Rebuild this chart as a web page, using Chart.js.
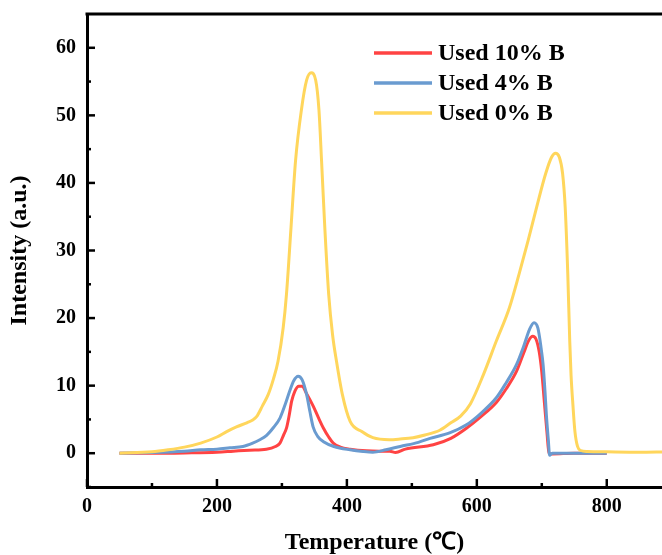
<!DOCTYPE html>
<html>
<head>
<meta charset="utf-8">
<script src="https://cdn.jsdelivr.net/npm/chart.js@4/dist/chart.umd.min.js"></script>
<style>
  html, body { margin: 0; padding: 0; background: #fff; }
  canvas { display: block; }
</style>
</head>
<body>
<canvas id="tpd" width="662" height="555"></canvas>
<script>
// --- data ---
const seriesLabels = ['Used 10% B', 'Used 4% B', 'Used 0% B'];

const temp10 = [50, 100, 150, 200, 225, 250, 276, 290, 297, 303, 307, 311, 315, 320, 326, 331, 338, 348, 356, 364, 372, 379, 390, 405, 430, 450, 466, 475, 490, 533, 560, 584, 605, 630, 645, 661, 672, 680, 686, 691, 696, 700, 704, 708, 711, 716, 750, 800];
const int10  = [0, 0, 0.05, 0.15, 0.3, 0.45, 0.6, 1.0, 1.5, 2.8, 3.7, 5.5, 7.7, 9.2, 9.9, 9.9, 8.8, 7.0, 5.3, 3.7, 2.4, 1.5, 0.9, 0.6, 0.35, 0.3, 0.3, 0.1, 0.6, 1.25, 2.2, 3.7, 5.3, 7.5, 9.5, 12.1, 14.8, 16.7, 17.3, 16.9, 15.0, 12.0, 7.5, 3.0, 0, -0.1, 0, 0];

const temp4 = [50, 100, 150, 175, 200, 220, 240, 255, 266, 276, 287, 297, 305, 312, 318, 325, 331, 338, 343, 348, 355, 364, 380, 405, 425, 440, 460, 482, 510, 528, 558, 584, 605, 630, 645, 661, 672, 681, 688, 694, 699, 702, 705, 707, 710, 712, 716, 750, 800];
const int4  = [0, 0.1, 0.3, 0.5, 0.6, 0.8, 1.0, 1.5, 2.0, 2.6, 3.8, 5.2, 7.2, 9.2, 10.7, 11.4, 10.9, 8.7, 6.2, 3.9, 2.5, 1.7, 1.0, 0.5, 0.25, 0.15, 0.5, 1.0, 1.6, 2.2, 3.0, 4.2, 5.8, 8.2, 10.4, 13.1, 15.8, 18.3, 19.3, 18.5, 15.5, 13.1, 9.0, 5.7, 2.0, -0.3, 0, 0, 0];

const temp0 = [50, 100, 125, 150, 175, 200, 215, 230, 246, 255, 261, 270, 279, 287, 294, 302, 307, 314, 321, 330, 338, 345, 352, 357, 361, 366, 372, 378, 384, 393, 405, 423, 440, 465, 482, 502, 520, 543, 560, 575, 590, 610, 630, 650, 665, 679, 692, 706, 715, 721, 727, 732, 736, 740, 743, 745, 748, 751, 755, 760, 770, 800, 850, 890];
const int0  = [0, 0.2, 0.5, 0.9, 1.5, 2.4, 3.2, 3.9, 4.5, 4.9, 5.4, 7.0, 8.7, 11.0, 13.6, 18.6, 23.5, 33.4, 43.3, 50.8, 55.2, 56.3, 55.2, 50.8, 43.3, 33.4, 23.5, 17.5, 13.6, 8.7, 4.7, 3.2, 2.3, 2.0, 2.1, 2.3, 2.7, 3.4, 4.5, 5.5, 7.3, 11.6, 16.6, 21.5, 26.5, 31.5, 36.4, 41.4, 43.8, 44.4, 43.8, 41.4, 36.4, 26.5, 16.6, 11.6, 7.0, 3.2, 1.0, 0.4, 0.25, 0.2, 0.15, 0.2];

const xMajorTicks = [0, 200, 400, 600, 800];
const xMinorTicks = [100, 300, 500, 700];
const yMajorTicks = [0, 10, 20, 30, 40, 50, 60];
const yMinorTicks = [-5, 5, 15, 25, 35, 45, 55];

const lineColors = ['#FF4343', '#6A9BD0', '#FFD65C'];

const toPoints = (xs, ys) => xs.map((t, i) => ({ x: t, y: ys[i] }));
const serif = "'Liberation Serif', 'Times New Roman', serif";

// inward tick marks, top frame line and the in-plot legend
const framePlugin = {
  id: 'frame',
  afterDraw(chart) {
    const { ctx, chartArea: a, scales: { x, y } } = chart;
    ctx.save();
    ctx.strokeStyle = '#000';
    ctx.lineCap = 'butt';

    ctx.lineWidth = 3;
    ctx.beginPath();
    ctx.moveTo(a.left - 1.5, a.top);
    ctx.lineTo(a.right, a.top);
    ctx.stroke();

    ctx.lineWidth = 2.5;
    const mark = (px, py, dx, dy) => {
      ctx.beginPath(); ctx.moveTo(px, py); ctx.lineTo(px + dx, py + dy); ctx.stroke();
    };
    xMajorTicks.forEach((v) => mark(x.getPixelForValue(v), a.bottom, 0, -8));
    xMinorTicks.forEach((v) => mark(x.getPixelForValue(v), a.bottom, 0, -4));
    yMajorTicks.forEach((v) => mark(a.left, y.getPixelForValue(v), 8, 0));
    yMinorTicks.forEach((v) => mark(a.left, y.getPixelForValue(v), 4, 0));

    // legend
    ctx.font = `bold 24px ${serif}`;
    ctx.textBaseline = 'middle';
    ctx.textAlign = 'left';
    chart.data.datasets.forEach((ds, i) => {
      const ly = a.top + 39 + i * 30;
      ctx.strokeStyle = ds.borderColor;
      ctx.lineWidth = 3.5;
      ctx.beginPath();
      ctx.moveTo(a.left + 287, ly);
      ctx.lineTo(a.left + 345, ly);
      ctx.stroke();
      ctx.fillStyle = '#000';
      ctx.fillText(ds.label, a.left + 351, ly + 1);
    });
    ctx.restore();
  },
};

new Chart(document.getElementById('tpd').getContext('2d'), {
  type: 'line',
  data: {
    datasets: [
      { label: seriesLabels[0], data: toPoints(temp10, int10), borderColor: lineColors[0], order: 3 },
      { label: seriesLabels[1], data: toPoints(temp4, int4), borderColor: lineColors[1], order: 2 },
      { label: seriesLabels[2], data: toPoints(temp0, int0), borderColor: lineColors[2], order: 1 },
    ],
  },
  options: {
    responsive: false,
    animation: false,
    parsing: false,
    layout: { padding: { top: 14, right: 0, bottom: 0, left: 0 } },
    elements: {
      line: { borderWidth: 3, cubicInterpolationMode: 'monotone', fill: false },
      point: { radius: 0 },
    },
    plugins: {
      legend: { display: false },
      tooltip: { enabled: false },
    },
    scales: {
      x: {
        type: 'linear',
        min: 0,
        max: 885,
        afterBuildTicks: (s) => { s.ticks = xMajorTicks.map((v) => ({ value: v })); },
        afterFit: (s) => { s.height = 68; s.paddingRight = 0; },
        grid: { display: false, drawTicks: false },
        border: { display: true, color: '#000', width: 3 },
        ticks: {
          color: '#000',
          padding: 8,
          maxRotation: 0,
          autoSkip: false,
          font: { family: serif, size: 20, weight: 'bold' },
        },
        title: {
          display: true,
          text: 'Temperature (℃)',
          color: '#000',
          padding: { top: 0, bottom: 0 },
          font: { family: serif, size: 24, weight: 'bold', lineHeight: 1 },
        },
      },
      y: {
        min: -5,
        max: 65,
        afterBuildTicks: (s) => { s.ticks = yMajorTicks.map((v) => ({ value: v })); },
        afterFit: (s) => { s.width = 87; s.paddingTop = 0; s.paddingBottom = 0; },
        grid: { display: false, drawTicks: false },
        border: { display: true, color: '#000', width: 3 },
        ticks: {
          color: '#000',
          padding: 11,
          autoSkip: false,
          font: { family: serif, size: 20, weight: 'bold' },
        },
        title: {
          display: true,
          text: 'Intensity (a.u.)',
          color: '#000',
          padding: { top: 8, bottom: 0 },
          font: { family: serif, size: 24, weight: 'bold', lineHeight: 1 },
        },
      },
    },
  },
  plugins: [framePlugin],
});
</script>
</body>
</html>
